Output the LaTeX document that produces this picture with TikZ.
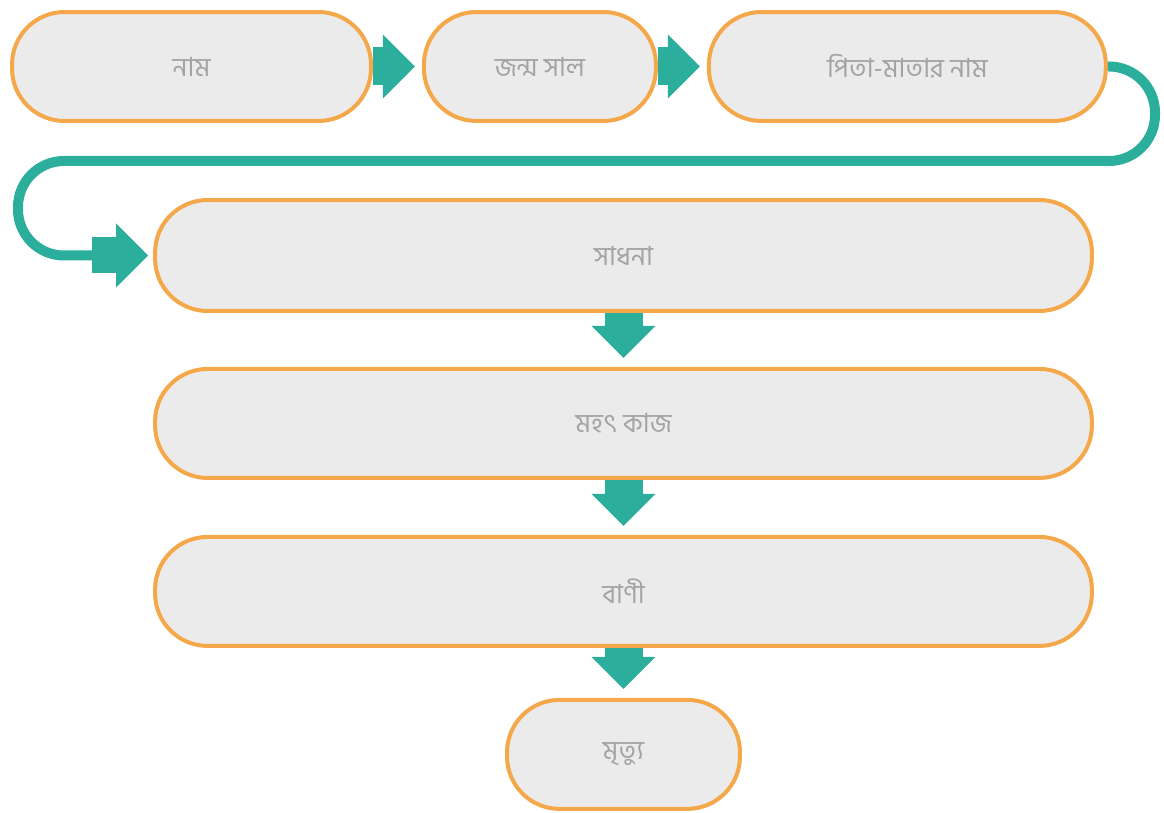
\documentclass[tikz,border=0pt]{standalone}
\usepackage{fontspec}
\newfontfamily\bangla[Script=Bengali]{Hind Siliguri}
\usetikzlibrary{positioning,arrows.meta}
\definecolor{boxfill}{HTML}{EBEBEB}
\definecolor{boxline}{HTML}{F4A84A}
\definecolor{flowteal}{HTML}{2BAE9B}
\definecolor{textgray}{HTML}{A3A3A3}
\begin{document}
\begin{tikzpicture}[x=0.02cm,y=-0.02cm,
    pill/.style={draw=boxline,fill=boxfill,line width=0.08cm,rounded corners=1.05cm,
      minimum height=2.18cm,text=textgray,font=\bangla\fontsize{15}{17}\selectfont},
    flowarrow/.style={draw=flowteal,line width=0.76cm,
      -{Triangle[length=0.64cm,width=1.28cm,line width=0pt]}},
    loopline/.style={draw=flowteal,line width=0.2cm,rounded corners=0.92cm}
  ]
  \useasboundingbox (0,0) rectangle (1164,813);

  % top row
  \node[pill,minimum width=7.18cm] (nam) at (191.5,66.5) {নাম};
  \node[pill,minimum width=4.64cm,right=0.98cm of nam] (janma) {জন্ম সাল};
  \node[pill,minimum width=7.94cm,right=0.98cm of janma] (pita) {পিতা-মাতার নাম};

  % long boxes
  \node[pill,minimum width=18.74cm,minimum height=2.22cm] (sadhana) at (623.5,255.5) {সাধনা};
  \node[pill,minimum width=18.74cm,below=1.08cm of sadhana] (mahat) {মহৎ কাজ};
  \node[pill,minimum width=18.74cm,below=1.1cm of mahat] (bani) {বাণী};
  \node[pill,minimum width=4.66cm,below=1.0cm of bani] (mrittu) {মৃত্যু};

  \draw[flowarrow] (nam.east) -- ([xshift=-0.14cm]janma.west);
  \draw[flowarrow] (janma.east) -- ([xshift=-0.14cm]pita.west);

  % loop back to the second row
  \coordinate (loopR) at (1155,161);
  \coordinate (loopL) at (18,161);
  \coordinate (loopin) at ([xshift=-1.22cm]sadhana.west);
  \draw[loopline] (pita.east) -| (loopR) -- (loopL) |- (loopin);
  \draw[flowarrow,line width=0.72cm] (loopin) -- ([xshift=-0.1cm]sadhana.west);

  \draw[flowarrow] (sadhana.south) -- ([yshift=0.18cm]mahat.north);
  \draw[flowarrow] (mahat.south) -- ([yshift=0.18cm]bani.north);
  \draw[flowarrow] (bani.south) -- ([yshift=0.18cm]mrittu.north);
\end{tikzpicture}
\end{document}
